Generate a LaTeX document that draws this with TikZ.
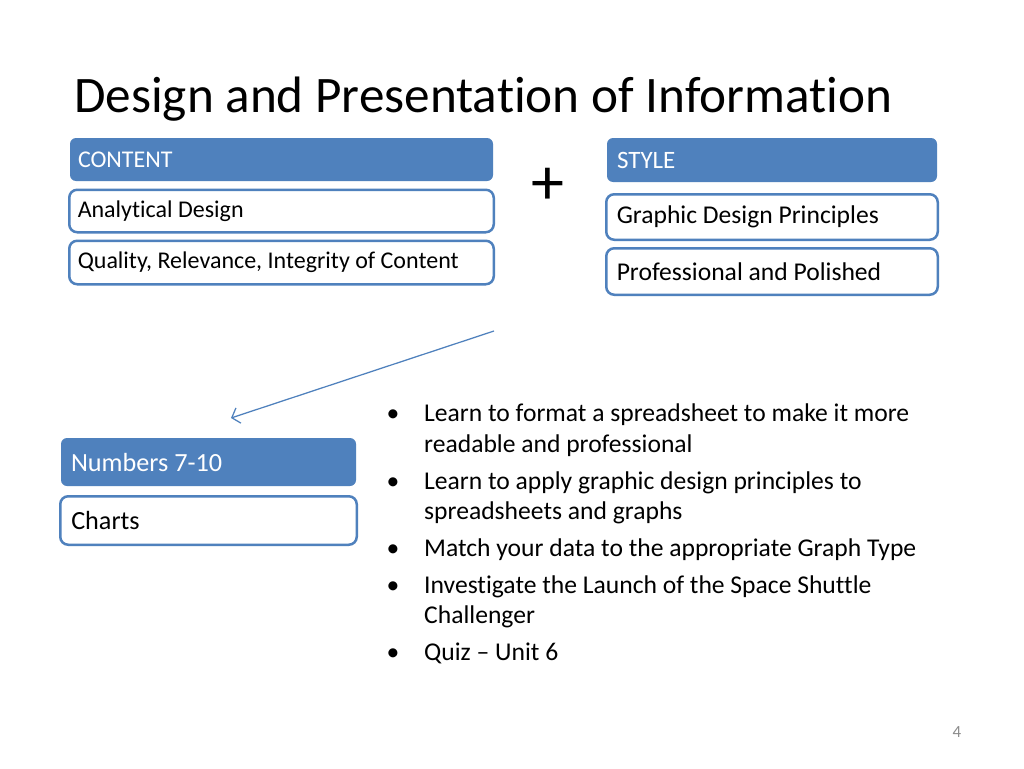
\documentclass[tikz,border=0pt]{standalone}
\usepackage{fontspec}
\setmainfont{Carlito}[Ligatures=NoCommon]
\usetikzlibrary{arrows.meta}
\definecolor{accent}{HTML}{4F81BD}
\definecolor{pagegray}{HTML}{8C8C8C}
\tikzset{
  hdrbox/.style={fill=accent, draw=none, rounded corners=6pt, text=white, inner xsep=10pt, inner ysep=0pt, anchor=center},
  itembox/.style={fill=white, draw=accent, line width=2.5pt, rounded corners=8pt, text=black, inner xsep=11pt, inner ysep=0pt, anchor=center},
  bul/.style={anchor=base, inner sep=0pt, font=\fontsize{25.6}{30}\selectfont},
  bline/.style={anchor=base west, inner sep=0pt, font=\fontsize{25.6}{30}\selectfont},
  connector/.style={draw=accent, line width=1.25pt, -{Straight Barb[length=7pt,width=16pt,line width=1.25pt]}}
}
\begin{document}
\begin{tikzpicture}[x=1pt,y=-1pt]
\useasboundingbox[fill=white] (0,0) rectangle (1024,768);
% title
\node[anchor=base west, inner sep=0pt, font=\fontsize{51.2}{60}\selectfont] (title) at (74,112) {Design and Presentation of Information};
% content column
\node[hdrbox, inner xsep=8pt, minimum width=423pt, minimum height=43pt, font=\fontsize{24}{28}\selectfont] (content) at (281.5,159.5) {\makebox[407pt][l]{CONTENT}};
\node[itembox, inner xsep=8.5pt, minimum width=424.5pt, minimum height=42.5pt, font=\fontsize{24}{28}\selectfont] (analytical) at (281.5,211) {\makebox[407.5pt][l]{Analytical Design}};
\node[itembox, inner xsep=8.5pt, minimum width=424.5pt, minimum height=43.5pt, font=\fontsize{24}{28}\selectfont] (quality) at (281.5,262.5) {\makebox[407.5pt][l]{Quality, Relevance, Integrity of Content}};
% plus
\node[inner sep=0pt, font=\fontsize{66}{66}\selectfont] (plus) at (548,186) {+};
% style column
\node[hdrbox, minimum width=330pt, minimum height=44pt, font=\fontsize{25}{29}\selectfont] (style) at (772,160) {\makebox[310pt][l]{STYLE}};
\node[itembox, inner xsep=10.5pt, minimum width=331.5pt, minimum height=45.5pt, font=\fontsize{25.6}{30}\selectfont] (graphic) at (772,217) {\makebox[310.5pt][l]{Graphic Design Principles}};
\node[itembox, inner xsep=10.5pt, minimum width=331.5pt, minimum height=46.5pt, font=\fontsize{25.6}{30}\selectfont] (prof) at (772,271.5) {\makebox[310.5pt][l]{Professional and Polished}};
% arrow
\coordinate (arrs) at (494,331);
\coordinate (arre) at (231,418);
\draw[connector] (arrs) -- (arre);
% numbers
\node[hdrbox, minimum width=295pt, minimum height=48pt, font=\fontsize{26.2}{30}\selectfont] (numbers) at (208.5,462) {\makebox[275pt][l]{Numbers 7-10}};
\node[itembox, minimum width=296.5pt, minimum height=48.5pt, font=\fontsize{26.2}{30}\selectfont] (charts) at (208.5,520.5) {\makebox[274.5pt][l]{Charts}};
% bullets
\node[bul] (b1) at (393,421.5) {•};
\node[bline] (l1a) at (424,421.5) {Learn to format a spreadsheet to make it more};
\node[bline] (l1b) at (424,452) {readable and professional};
\node[bul] (b2) at (393,489) {•};
\node[bline] (l2a) at (424,489) {Learn to apply graphic design principles to};
\node[bline] (l2b) at (424,519) {spreadsheets and graphs};
\node[bul] (b3) at (393,556.5) {•};
\node[bline] (l3a) at (424,556.5) {Match your data to the appropriate Graph Type};
\node[bul] (b4) at (393,593) {•};
\node[bline] (l4a) at (424,593) {Investigate the Launch of the Space Shuttle};
\node[bline] (l4b) at (424,623.5) {Challenger};
\node[bul] (b5) at (393,660.5) {•};
\node[bline] (l5a) at (424,660.5) {Quiz – Unit 6};
% page number
\node[inner sep=0pt, text=pagegray, font=\fontsize{17}{20}\selectfont] (pagenum) at (957,732.5) {4};
\end{tikzpicture}
\end{document}
